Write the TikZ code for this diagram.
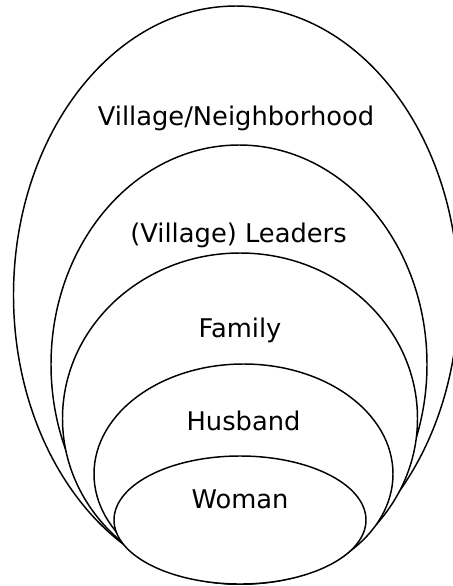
\documentclass[tikz,border=0pt]{standalone}
\usepackage{fontspec}
\setmainfont{DejaVu Sans}

\tikzset{every picture/.style={line width=1.1pt}}
\tikzset{ring/.style={draw=black, fill=white}, ringlabel/.style={anchor=base, inner sep=0pt, font=\fontsize{19.3}{23}\selectfont}}

\begin{document}
\begin{tikzpicture}[x=0.75pt,y=0.75pt,yscale=-1,xscale=1]
\useasboundingbox (0,0) rectangle (453,586);

\draw  [ring]  (236,295) ellipse (222.5 and 289) ;
\draw  [ring]  (239,364.5) ellipse (188 and 219.5) ;
\draw  [ring]  (240,418.5) ellipse (177.5 and 165.5) ;
\draw  [ring]  (243.5,474) ellipse (149.5 and 110) ;
\draw  [ring]  (240,520) ellipse (126 and 64) ;

\node (village) [ringlabel] at (236,125) {Village/Neighborhood};
\node (leaders) [ringlabel] at (238.5,242) {(Village) Leaders};
\node (family) [ringlabel] at (240,337) {Family};
\node (husband) [ringlabel] at (243.5,430) {Husband};
\node (woman) [ringlabel] at (240,508) {Woman};

\end{tikzpicture}
\end{document}
